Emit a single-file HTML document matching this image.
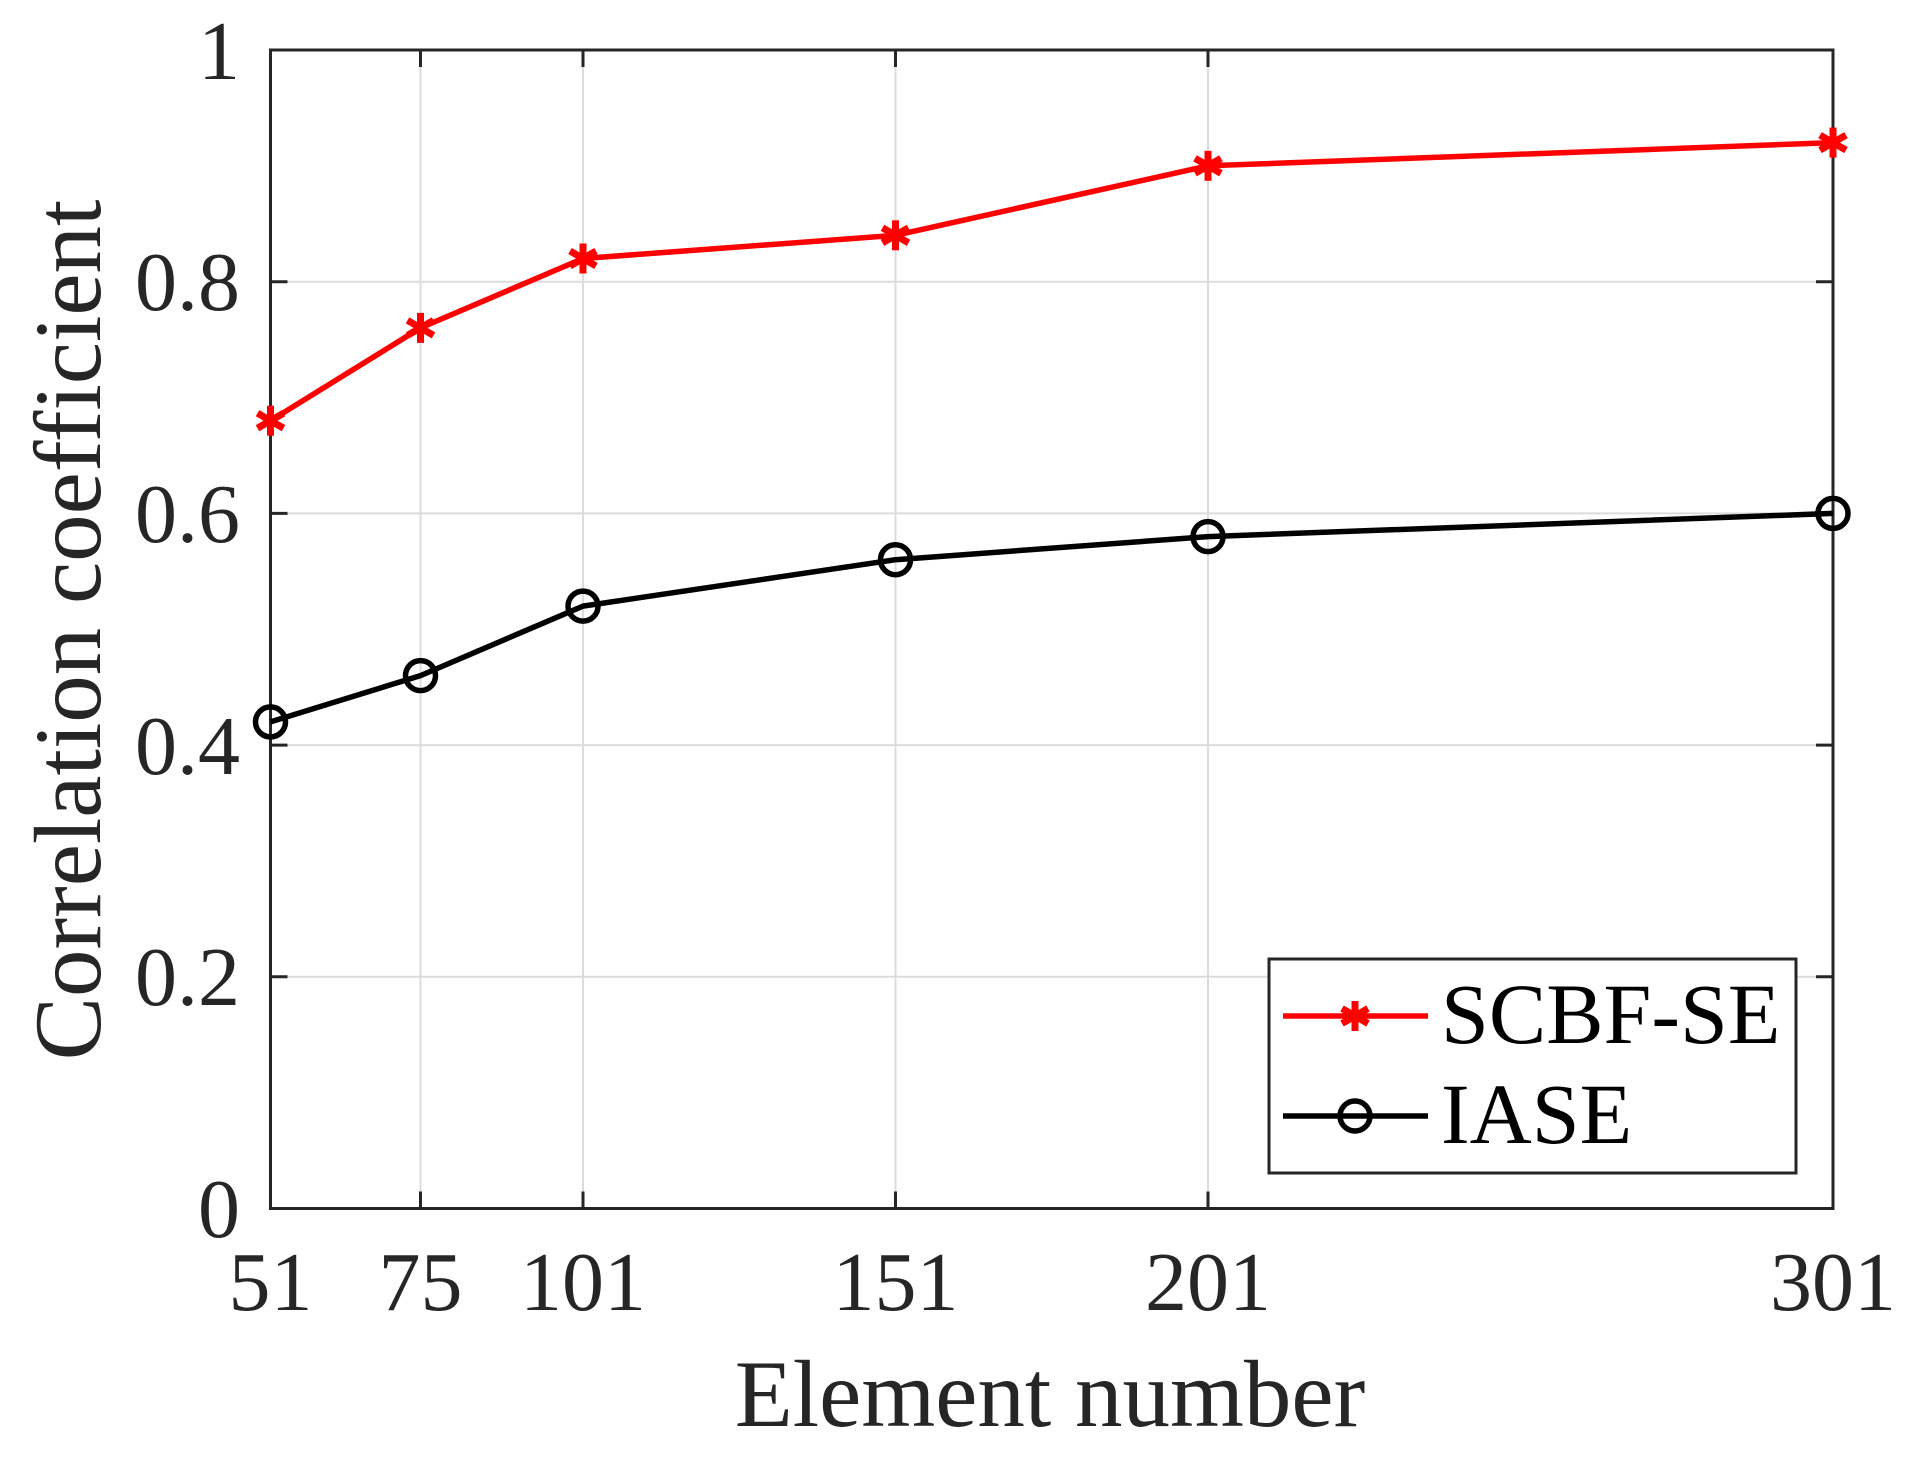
<!DOCTYPE html>
<html><head><meta charset="utf-8"><style>html,body{margin:0;padding:0;background:#fff}</style></head>
<body>
<svg width="1913" height="1459" viewBox="0 0 1913 1459" xmlns="http://www.w3.org/2000/svg" font-family="'Liberation Serif', serif" fill="#262626">
<defs>
<g id="star"><g stroke="#ff0000" stroke-width="7" stroke-linecap="butt">
<line x1="0" y1="-15" x2="0" y2="15"/><line x1="-13" y1="-7.5" x2="13" y2="7.5"/><line x1="-13" y1="7.5" x2="13" y2="-7.5"/></g></g>
<circle id="circ" r="15" fill="none" stroke="#000" stroke-width="5.5"/>
</defs>
<g stroke="#dcdcdc" stroke-width="2">
<line x1="420.5" y1="50" x2="420.5" y2="1208.5"/>
<line x1="583" y1="50" x2="583" y2="1208.5"/>
<line x1="895.5" y1="50" x2="895.5" y2="1208.5"/>
<line x1="1208" y1="50" x2="1208" y2="1208.5"/>
<line x1="270.5" y1="976.8" x2="1833" y2="976.8"/>
<line x1="270.5" y1="745.1" x2="1833" y2="745.1"/>
<line x1="270.5" y1="513.4" x2="1833" y2="513.4"/>
<line x1="270.5" y1="281.7" x2="1833" y2="281.7"/>
</g>
<g stroke="#262626" stroke-width="3">
<path d="M270.5 976.8h17M270.5 745.1h17M270.5 513.4h17M270.5 281.7h17M1833 976.8h-17M1833 745.1h-17M1833 513.4h-17M1833 281.7h-17"/>
<path d="M420.5 1208.5v-17M583 1208.5v-17M895.5 1208.5v-17M1208 1208.5v-17M420.5 50v17M583 50v17M895.5 50v17M1208 50v17"/>
<rect x="270.5" y="50" width="1562.5" height="1158.5" fill="none"/>
</g>
<polyline fill="none" stroke="#ff0000" stroke-width="5.5" stroke-linejoin="round" points="270.5,420.7 420.5,327.9 583,258.5 895.5,235.3 1208,165.8 1833,142.6"/>
<g>
<use href="#star" x="270.5" y="420.7"/><use href="#star" x="420.5" y="327.9"/><use href="#star" x="583" y="258.5"/><use href="#star" x="895.5" y="235.3"/><use href="#star" x="1208" y="165.8"/><use href="#star" x="1833" y="142.6"/>
</g>
<polyline fill="none" stroke="#000" stroke-width="5.5" stroke-linejoin="round" points="270.5,721.9 420.5,675.6 583,606.1 895.5,559.7 1208,536.6 1833,513.4"/>
<g>
<use href="#circ" x="270.5" y="721.9"/><use href="#circ" x="420.5" y="675.6"/><use href="#circ" x="583" y="606.1"/><use href="#circ" x="895.5" y="559.7"/><use href="#circ" x="1208" y="536.6"/><use href="#circ" x="1833" y="513.4"/>
</g>
<g font-size="84" text-anchor="end">
<text x="240" y="1237">0</text>
<text x="240" y="1005">0.2</text>
<text x="240" y="774">0.4</text>
<text x="240" y="542">0.6</text>
<text x="240" y="310">0.8</text>
<text x="240" y="79">1</text>
</g>
<g font-size="84" text-anchor="middle">
<text x="270.5" y="1310">51</text>
<text x="420.5" y="1310">75</text>
<text x="583" y="1310">101</text>
<text x="895.5" y="1310">151</text>
<text x="1208" y="1310">201</text>
<text x="1833" y="1310">301</text>
</g>
<text x="1050" y="1426" font-size="95" text-anchor="middle">Element number</text>
<text transform="translate(100,630) rotate(-90)" font-size="95" text-anchor="middle">Correlation coefficient</text>
<rect x="1269" y="959" width="527" height="214" fill="#fff" stroke="#262626" stroke-width="3"/>
<line x1="1283" y1="1016" x2="1428" y2="1016" stroke="#ff0000" stroke-width="5.5"/>
<use href="#star" x="1355" y="1016"/>
<line x1="1283" y1="1116" x2="1428" y2="1116" stroke="#000" stroke-width="5.5"/>
<use href="#circ" x="1355" y="1116"/>
<g font-size="86" fill="#000">
<text x="1441" y="1043">SCBF-SE</text>
<text x="1441" y="1143">IASE</text>
</g>
</svg>
</body></html>
